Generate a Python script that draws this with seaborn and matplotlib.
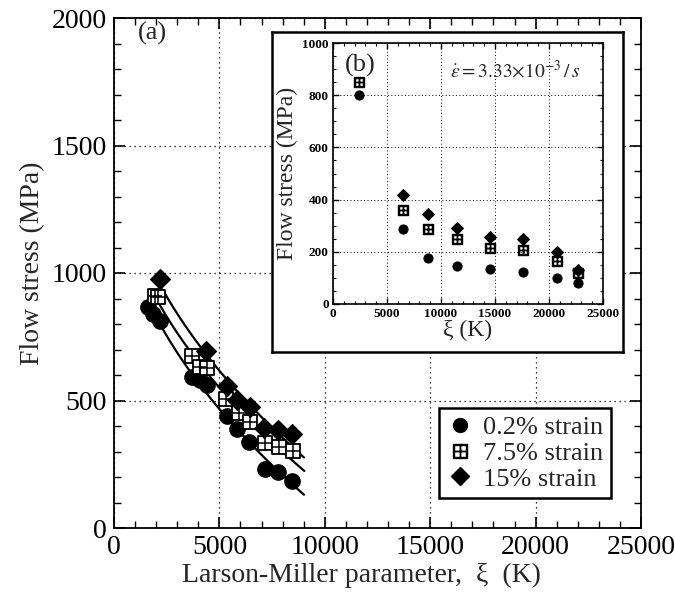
import numpy as np
import pandas as pd
import matplotlib
matplotlib.use("Agg")
import matplotlib.pyplot as plt
import seaborn as sns
from matplotlib.ticker import MultipleLocator
from matplotlib.lines import Line2D

# ---- main plot data (a) ----
lm_circle = [1630, 1870, 2180, 3690, 4080, 4400, 5350, 5820, 6420, 7160, 7800, 8460]
fs_circle = [868, 839, 813, 593, 580, 561, 439, 387, 338, 230, 221, 184]
lm_square = [1950, 2100, 3690, 4080, 4400, 5310, 5950, 6450, 7160, 7830, 8480]
fs_square = [909, 905, 674, 632, 626, 504, 452, 417, 335, 319, 303]
lm_diamond = [2180, 4360, 5350, 5850, 6450, 7130, 7800, 8460]
fs_diamond = [975, 694, 557, 502, 476, 393, 384, 367]

# ---- inset data (b) ----
xi_b = [2400, 6500, 8800, 11450, 14500, 17600, 20700, 22650]
fs_b_circle = [800, 286, 178, 146, 133, 123, 98, 82]
fs_b_square = [849, 361, 286, 249, 215, 207, 166, 118]
xi_b_diamond = [6500, 8800, 11450, 14500, 17600, 20700, 22650]
fs_b_diamond = [418, 345, 292, 256, 248, 198, 130]

labels = ["0.2% strain", "7.5% strain", "15% strain"]

sns.set_theme(style="ticks")
plt.rcParams["font.family"] = ["Liberation Serif", "DejaVu Serif"]
plt.rcParams["mathtext.fontset"] = "stix"

fig = plt.figure(figsize=(6.75, 5.98), dpi=100)
ax = fig.add_axes([114/675, 70/598, 527/675, 510/598])

def style_axes(a, lw=1.3):
    for s in a.spines.values():
        s.set_linewidth(lw)
        s.set_color("black")
    a.tick_params(which="both", direction="in", top=True, right=True, colors="black")
    a.grid(True, which="major", linestyle=(0, (1, 3)), color="black", linewidth=0.9)

# fitted trend curves (linear in sqrt(x), fitted to the data)
for xs, ys in [(lm_circle, fs_circle), (lm_square, fs_square), (lm_diamond, fs_diamond)]:
    xs_a = np.asarray(xs, float)
    coef = np.polyfit(np.sqrt(xs_a), np.asarray(ys, float), 1)
    xx = np.linspace(xs_a.min() + 150, xs_a.max() + 550, 100)
    sns.lineplot(x=xx, y=np.polyval(coef, np.sqrt(xx)), ax=ax, color="black", lw=1.6,
                 zorder=2, legend=False)

# main scatter
ax.scatter(lm_circle, fs_circle, marker="o", s=11**2, color="black", zorder=3)
ax.scatter(lm_square, fs_square, marker="s", s=10**2, facecolor="white", edgecolor="black",
           linewidth=1.3, zorder=3)
ax.scatter(lm_square, fs_square, marker="+", s=10**2, color="black", linewidth=1.1, zorder=4)
ax.scatter(lm_diamond, fs_diamond, marker="D", s=10**2, color="black", zorder=3)

ax.set_xlim(0, 25000)
ax.set_ylim(0, 2000)
ax.xaxis.set_major_locator(MultipleLocator(5000))
ax.xaxis.set_minor_locator(MultipleLocator(1000))
ax.yaxis.set_major_locator(MultipleLocator(500))
ax.yaxis.set_minor_locator(MultipleLocator(100))
style_axes(ax)
ax.tick_params(which="major", length=8, width=1.2, labelsize=20, pad=5)
ax.tick_params(which="minor", length=5, width=1.0)
ax.set_xlabel("Larson-Miller parameter,  ξ  (K)", fontsize=20, labelpad=2, x=0.47)
ax.set_ylabel("Flow stress (MPa)", fontsize=20, labelpad=5, y=0.52)
ax.text(0.045, 0.97, "(a)", transform=ax.transAxes, fontsize=19, va="center", ha="left")

# legend
h1 = Line2D([], [], marker="o", color="black", ls="none", ms=10)
h2 = Line2D([], [], marker="$\u229e$", color="black", ls="none", ms=10)
h3 = Line2D([], [], marker="D", color="black", ls="none", ms=9)
leg = ax.legend([h1, h2, h3], labels, loc="lower right", bbox_to_anchor=(0.943, 0.058),
                fontsize=19, frameon=True, fancybox=False, edgecolor="black",
                handletextpad=0.35, borderpad=0.3, labelspacing=0.08, handlelength=1.0,
                borderaxespad=0)
leg.get_frame().set_linewidth(1.8)
leg.get_frame().set_alpha(1)

# inset frame
frame = fig.add_axes([272/675, (598-352)/598, 351/675, 320/598])
frame.set_xticks([]); frame.set_yticks([])
frame.set_facecolor("white")
for s in frame.spines.values():
    s.set_linewidth(1.8)
    s.set_color("black")

ins = fig.add_axes([333/675, (598-304)/598, 270/675, 261/598])
ins.scatter(xi_b, fs_b_circle, marker="o", s=40, color="black", zorder=3)
ins.scatter(xi_b, fs_b_square, marker="$\u229e$", s=50, color="black", zorder=3)
ins.scatter(xi_b_diamond, fs_b_diamond, marker="D", s=34, color="black", zorder=3)
ins.set_xlim(0, 25000)
ins.set_ylim(0, 1000)
ins.xaxis.set_major_locator(MultipleLocator(5000))
ins.xaxis.set_minor_locator(MultipleLocator(1000))
ins.yaxis.set_major_locator(MultipleLocator(200))
ins.yaxis.set_minor_locator(MultipleLocator(50))
style_axes(ins, lw=1.2)
ins.grid(True, which="major", linestyle=(0, (1, 2.5)), color="black", linewidth=0.7)
ins.tick_params(which="major", length=4, width=1.0, labelsize=9.5, pad=3)
ins.tick_params(which="minor", length=2, width=0.8)
for t in ins.get_xticklabels() + ins.get_yticklabels():
    t.set_fontweight("bold")
ins.set_xlabel("ξ (K)", fontsize=17, labelpad=0)
ins.set_ylabel("Flow stress (MPa)", fontsize=17, labelpad=3)
ins.text(0.045, 0.915, "(b)", transform=ins.transAxes, fontsize=19, va="center", ha="left")
ins.text(0.435, 0.895, r"$\dot{\varepsilon} = 3.33{\times}10^{-3}\,/\,s$", transform=ins.transAxes,
         fontsize=14, va="center", ha="left")

fig.savefig("out.png", dpi=100)
